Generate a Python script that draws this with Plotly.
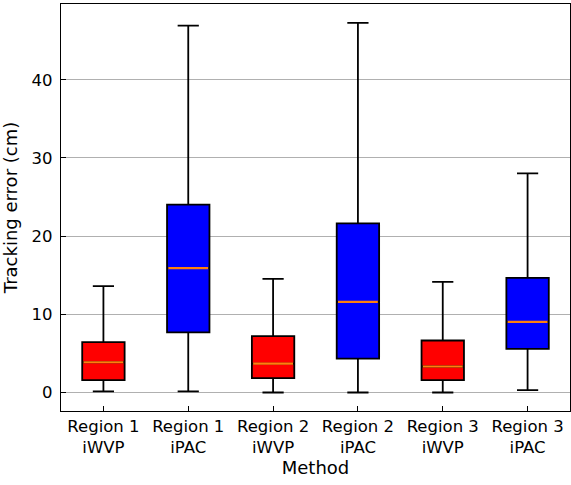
import plotly.graph_objects as go

categories = ["Region 1<br>iWVP", "Region 1<br>iPAC", "Region 2<br>iWVP",
              "Region 2<br>iPAC", "Region 3<br>iWVP", "Region 3<br>iPAC"]
lower_whisker = [0.13, 0.13, 0.0, 0.0, 0.0, 0.3]
q1 = [1.57, 7.7, 1.83, 4.34, 1.57, 5.58]
median = [3.87, 15.9, 3.7, 11.59, 3.32, 9.03]
q3 = [6.43, 24.03, 7.2, 21.64, 6.65, 14.66]
upper_whisker = [13.6, 46.94, 14.53, 47.28, 14.14, 28.03]
colors = ["red", "blue", "red", "blue", "red", "blue"]

box_width = 0.5
positions = list(range(1, len(categories) + 1))

fig = go.Figure()
for i, pos in enumerate(positions):
    fig.add_trace(go.Box(
        x=[pos], q1=[q1[i]], median=[median[i]], q3=[q3[i]],
        lowerfence=[lower_whisker[i]], upperfence=[upper_whisker[i]],
        width=box_width, whiskerwidth=0.5,
        fillcolor=colors[i], line=dict(color="black", width=1.8),
        boxpoints=False, showlegend=False, hoverinfo="skip",
    ))
for i, pos in enumerate(positions):
    fig.add_trace(go.Scatter(
        x=[pos - box_width / 2 + 0.015, pos + box_width / 2 - 0.015],
        y=[median[i], median[i]], mode="lines",
        line=dict(color="#ff7f0e", width=2.2), showlegend=False, hoverinfo="skip",
    ))

fig.update_layout(
    width=571, height=485,
    margin=dict(l=61, r=1, t=4, b=74),
    plot_bgcolor="white", paper_bgcolor="white",
    font=dict(family="DejaVu Sans", size=16.5, color="black"),
)
fig.update_xaxes(
    range=[0.5, 6.5], tickvals=positions, ticktext=categories,
    showline=True, linecolor="black", linewidth=1.2, mirror=True,
    ticks="inside", ticklen=5, tickcolor="black", showgrid=False, zeroline=False,
    title=dict(text="Method", standoff=3, font=dict(size=18)),
)
fig.update_yaxes(
    range=[-2.37, 49.7], tickvals=[0, 10, 20, 30, 40],
    showline=True, linecolor="black", linewidth=1.2, mirror=True,
    ticks="inside", ticklen=5, tickcolor="black",
    showgrid=True, gridcolor="#b0b0b0", gridwidth=1, zeroline=False,
    ticklabelstandoff=4,
    title=dict(text="Tracking error (cm)", standoff=9, font=dict(size=18)),
)
fig.write_html("out.html")
